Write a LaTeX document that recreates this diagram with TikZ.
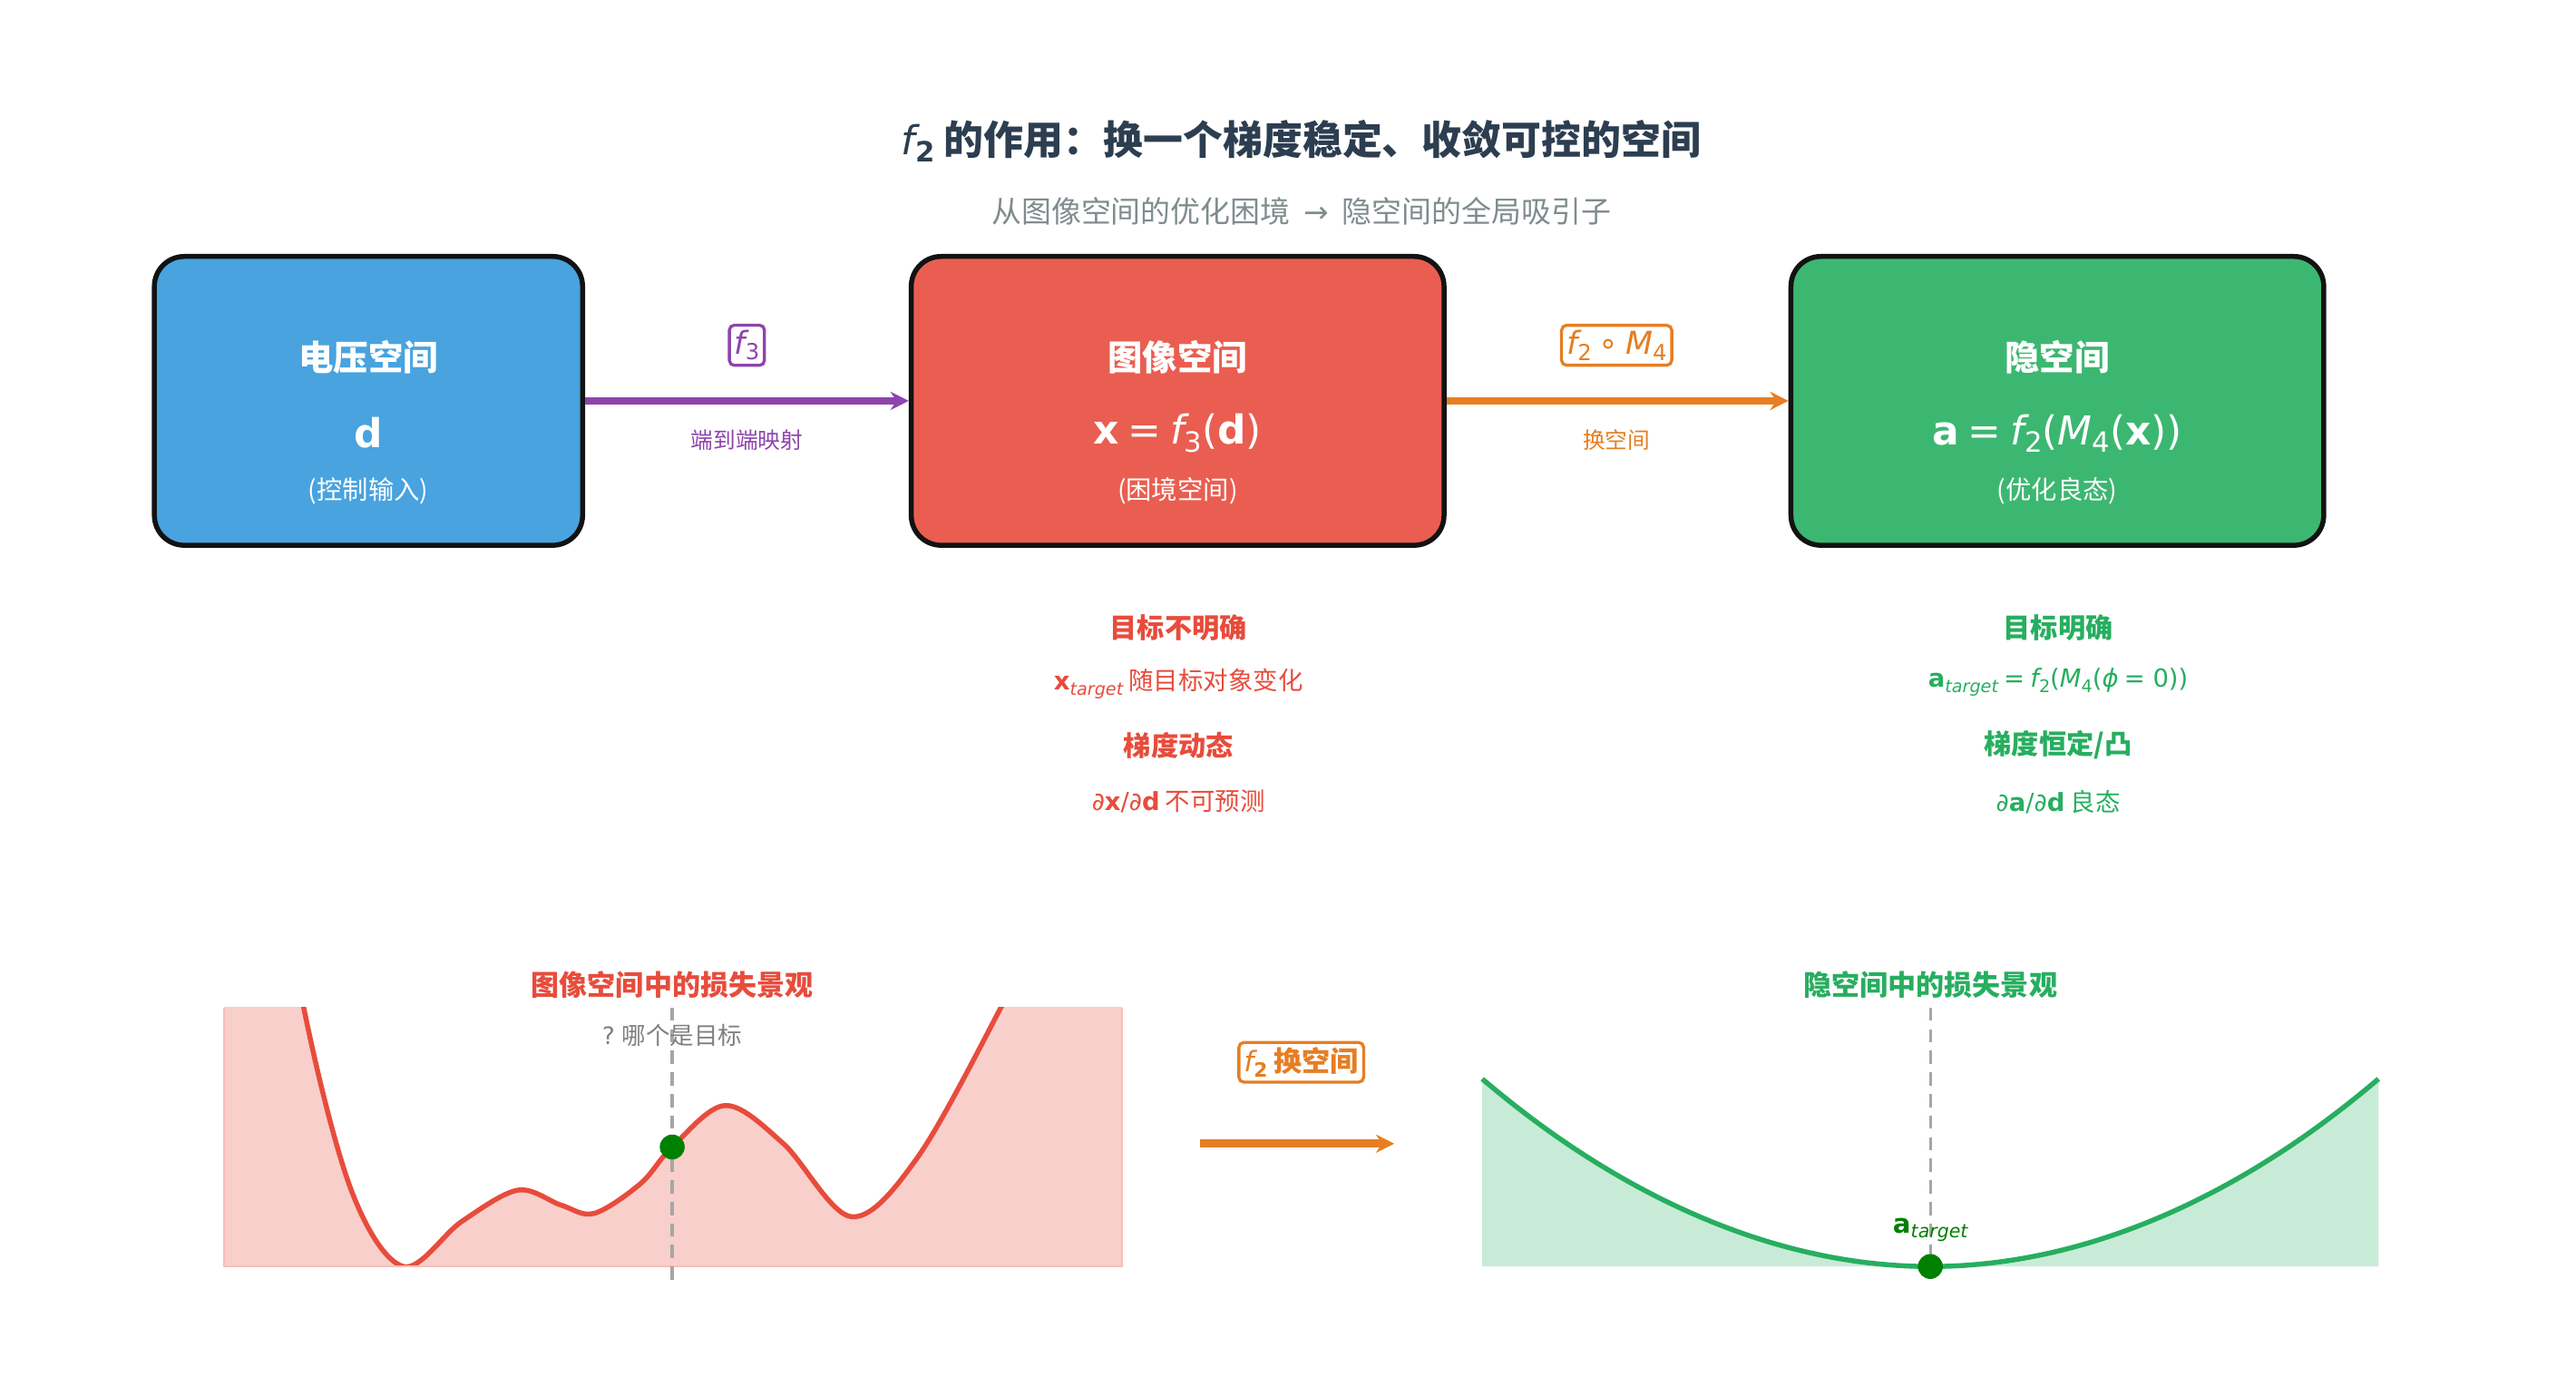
\documentclass[tikz,border=0pt]{standalone}
\usepackage{fontspec}
\setmainfont{Noto Sans CJK SC}
\newfontfamily\dv{DejaVu Sans}
\usetikzlibrary{arrows.meta}
\newcommand{\mi}[1]{{\dv\mdseries\itshape #1}}
\newcommand{\mr}[1]{{\dv #1}}
\newcommand{\mb}[1]{{\dv\bfseries #1}}
\newcommand{\sbs}[1]{\raisebox{-0.35ex}{\scalebox{0.7}{#1}}}
\definecolor{cblue}{HTML}{48A3DF}
\definecolor{cred}{HTML}{E95E50}
\definecolor{cgreen}{HTML}{3CB771}
\definecolor{tred}{HTML}{E74C3C}
\definecolor{tgreen}{HTML}{27AE60}
\definecolor{cpurple}{HTML}{8E44AD}
\definecolor{corange}{HTML}{E67E22}
\definecolor{ctitle}{HTML}{2C3E50}
\definecolor{cgray}{HTML}{7F8C8D}
\begin{document}
\begin{tikzpicture}[x=1pt,y=-1pt,
  space/.style={draw=black!93,line width=3pt,rounded corners=18pt,minimum width=#1,minimum height=174pt,inner sep=0pt},
  btitle/.style={text=white,font=\fontsize{21}{21}\selectfont\bfseries},
  bform/.style={text=white,font=\fontsize{24}{24}\selectfont},
  bparen/.style={text=white,font=\fontsize{15.5}{15.5}\selectfont},
  conn/.style={line width=4pt,-{Stealth[length=11pt,width=11pt]}},
  flab/.style={draw=#1,text=#1,fill=white,line width=1.8pt,rounded corners=3pt,inner sep=3pt,font=\fontsize{19}{19}\selectfont},
  slab/.style={text=#1,font=\fontsize{13.5}{13.5}\selectfont},
  nhead/.style={text=#1,font=\fontsize{16.5}{16.5}\selectfont\bfseries},
  ntext/.style={text=#1,font=\fontsize{15}{15}\selectfont},
  dashv/.style={gray!70,line width=1.8pt,dash pattern=on 8pt off 5pt}]
\useasboundingbox (0,0) rectangle (1552,841);
\node[text=ctitle,font=\fontsize{24}{24}\selectfont\bfseries] (title) at (784,85) {\mi{f}\sbs{\mr{2}} 的作用：换一个梯度稳定、收敛可控的空间};
\node[text=cgray,font=\fontsize{18}{18}\selectfont] (subtitle) at (784,127) {从图像空间的优化困境\ \ \mr{→}\ \ 隐空间的全局吸引子};
% boxes
\node[space=258pt,fill=cblue] (b1) at (222,241.5) {};
\node[space=321pt,fill=cred] (b2) at (709.5,241.5) {};
\node[space=321pt,fill=cgreen] (b3) at (1239.5,241.5) {};
\node[btitle] (t1) at (222,215) {电压空间};
\node[bform] (f1) at (222,261) {\mb{d}};
\node[bparen] (p1) at (222,296) {(控制输入)};
\node[btitle] (t2) at (709.5,215) {图像空间};
\node[bform] (f2) at (709.5,261) {\mb{x} \mr{=} \mi{f}\sbs{\mr{3}}\mr{(}\mb{d}\mr{)}};
\node[bparen] (p2) at (709.5,296) {(困境空间)};
\node[btitle] (t3) at (1239.5,215) {隐空间};
\node[bform] (f3) at (1239.5,261) {\mb{a} \mr{=} \mi{f}\sbs{\mr{2}}\mr{(}\mi{M}\sbs{\mr{4}}\mr{(}\mb{x}\mr{))}};
\node[bparen] (p3) at (1239.5,296) {(优化良态)};
% connectors
\draw[conn,cpurple] (b1.east) -- (b2.west);
\draw[conn,corange] (b2.east) -- (b3.west);
\node[flab=cpurple] (l1) at (450,208) {\mi{f}\sbs{\mr{3}}};
\node[slab=cpurple] (s1) at (450,265) {端到端映射};
\node[flab=corange] (l2) at (974,208) {\mi{f}\sbs{\mr{2}} \mr{∘} \mi{M}\sbs{\mr{4}}};
\node[slab=corange] (s2) at (974,265) {换空间};
% notes
\node[nhead=tred] (n1) at (710,378) {目标不明确};
\node[ntext=tred] (n2) at (710,412) {\mb{x}\sbs{\mi{target}} 随目标对象变化};
\node[nhead=tred] (n3) at (710,449) {梯度动态};
\node[ntext=tred] (n4) at (710,483) {\mr{∂}\mb{x}\mr{/∂}\mb{d} 不可预测};
\node[nhead=tgreen] (m1) at (1240,378) {目标明确};
\node[ntext=tgreen] (m2) at (1240,411) {\mb{a}\sbs{\mi{target}} \mr{=} \mi{f}\sbs{\mr{2}}\mr{(}\mi{M}\sbs{\mr{4}}\mr{(}\mi{ϕ} \mr{= 0))}};
\node[nhead=tgreen] (m3) at (1240,449) {梯度恒定/凸};
\node[ntext=tgreen] (m4) at (1240,483) {\mr{∂}\mb{a}\mr{/∂}\mb{d} 良态};
% left landscape
\def\lcurve{(160,460) (183,607) (212,718) (243,763) (278,736) (312,717) (338,726) (358,731) (386,713) (405,691) (437,666) (472,689) (513,733) (553,697) (603,607) (625,560)}
\begin{scope}
\clip (135,607) rectangle (676,763);
\fill[cred!30] (135,763) -- (135,420) -- plot[smooth,tension=0.55] coordinates {\lcurve} -- (676,420) -- (676,763) -- cycle;
\draw[tred,line width=3pt] plot[smooth,tension=0.55] coordinates {\lcurve};
\end{scope}
\draw[cred!40,line width=1pt] (135,607) -- (135,763) -- (676,763) -- (676,607);
\node[text=tred,font=\fontsize{17}{17}\selectfont\bfseries] (lt) at (405,593) {图像空间中的损失景观};
\coordinate (la) at (405,607);
\coordinate (lb) at (405,772);
\draw[dashv] (la) -- (lb);
\node[text=gray,font=\fontsize{14.5}{14.5}\selectfont] (lq) at (405,624) {\mr{?} 哪个是目标};
\node[circle,fill=green!50!black,inner sep=0pt,minimum size=15pt] (ld) at (405,691) {};
% middle arrow
\coordinate (ma) at (723,689);
\coordinate (mb) at (840,689);
\draw[conn,corange,line width=5pt] (ma) -- (mb);
\node[flab=corange,font=\fontsize{17}{17}\selectfont\bfseries] (ml) at (784,640) {\mi{f}\sbs{\mr{2}} 换空间};
% right landscape
\fill[cgreen!28] (893,763) -- (893,650) parabola bend (1163,763) (1433,650) -- (1433,763) -- cycle;
\draw[tgreen,line width=3pt] (893,650) parabola bend (1163,763) (1433,650);
\node[text=tgreen,font=\fontsize{17}{17}\selectfont\bfseries] (rt) at (1163,593) {隐空间中的损失景观};
\coordinate (ra) at (1163,607);
\coordinate (rb) at (1163,763);
\draw[dashv] (ra) -- (rb);
\node[text=green!50!black,font=\fontsize{16}{16}\selectfont] (rl) at (1163,741) {\mb{a}\sbs{\mi{target}}};
\node[circle,fill=green!50!black,inner sep=0pt,minimum size=15pt] (rd) at (1163,763) {};
\end{tikzpicture}
\end{document}
